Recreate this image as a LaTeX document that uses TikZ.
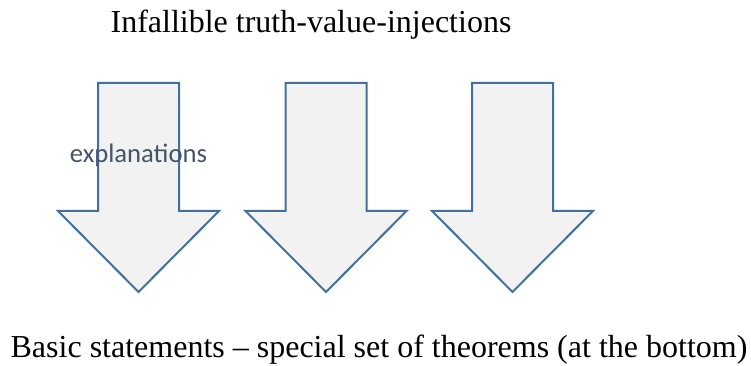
\documentclass[tikz,border=0pt]{standalone}
\usepackage{fontspec}
\setmainfont{Liberation Serif}
\newfontfamily\notefont{Carlito}
\usepackage{tikz}
\usetikzlibrary{positioning}
\definecolor{arrline}{HTML}{41719C}
\definecolor{arrfill}{HTML}{F2F2F2}
\definecolor{notegrey}{HTML}{44546A}
\tikzset{
  caption/.style={font=\fontsize{24}{28}\selectfont,inner sep=0pt,anchor=base},
  note/.style={font=\notefont\fontsize{20}{24}\selectfont,text=notegrey,inner sep=0pt,anchor=base},
  downarrow/.style={draw=arrline,fill=arrfill,line width=1.5pt,line join=miter},
}
\begin{document}
\begin{tikzpicture}[x=0.75pt,y=-0.75pt]
  \useasboundingbox (0,0) rectangle (751,366);
  \node[caption] (top) at (311,33) {Infallible truth-value-injections};
  % three block arrows
  \foreach \cx in {138.5,326,512.5}
    \draw[downarrow] (\cx-40.5,83) -- (\cx+40.5,83) -- (\cx+40.5,211) -- (\cx+80.5,211)
      -- (\cx,292) -- (\cx-80.5,211) -- (\cx-40.5,211) -- cycle;
  \node[note] (expl) at (138.5,163) {explanations};
  \node[caption] (bottom) at (379,358) {Basic statements -- special set of theorems (at the bottom)};
\end{tikzpicture}
\end{document}
